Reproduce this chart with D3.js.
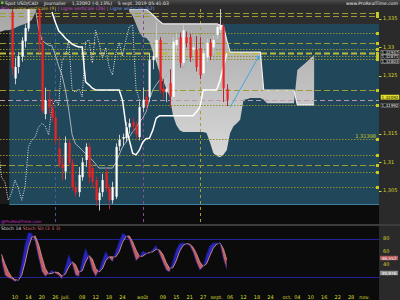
<!DOCTYPE html>
<html>
<head>
<meta charset="utf-8">
<script src="https://cdn.jsdelivr.net/npm/d3@7"></script>
<style>
  html, body { margin: 0; padding: 0; background: #0a0a0a; }
  svg { display: block; font-family: "DejaVu Sans", sans-serif; }
</style>
</head>
<body>
<svg id="chart" width="400" height="300"></svg>
<script>
// ---- data (USD/CAD daily, 6 june -> 5 sept 2019) ----
const firstDay = "2019-06-06";
const opens  = [1.3400,1.3362,1.3246,1.3266,1.3284,1.3311,1.3333,1.3386,1.3392,1.3380,1.3310,1.3184,1.3210,1.3196,1.3178,1.3124,1.3096,1.3084,1.3134,1.3099,1.3057,1.3048,1.3074,1.3104,1.3127,1.3090,1.3069,1.3034,1.3048,1.3083,1.3055,1.3034,1.3040,1.3128,1.3141,1.3142,1.3161,1.3170,1.3165,1.3144,1.3195,1.3214,1.3214,1.3278,1.3283,1.3313,1.3229,1.3222,1.3238,1.3214,1.3304,1.3318,1.3273,1.3318,1.3318,1.3296,1.3296,1.3299,1.3255,1.3283,1.3308,1.3300,1.3322,1.3331,1.3337,1.3228];
const highs  = [1.3425,1.3375,1.3282,1.3292,1.3318,1.3340,1.3392,1.3405,1.3432,1.3390,1.3318,1.3230,1.3225,1.3210,1.3190,1.3145,1.3110,1.3145,1.3140,1.3106,1.3066,1.3092,1.3108,1.3133,1.3134,1.3098,1.3075,1.3055,1.3080,1.3090,1.3062,1.3066,1.3133,1.3148,1.3150,1.3170,1.3176,1.3178,1.3172,1.3206,1.3230,1.3225,1.3290,1.3298,1.3345,1.3318,1.3245,1.3245,1.3262,1.3318,1.3325,1.3326,1.3340,1.3328,1.3324,1.3310,1.3320,1.3318,1.3298,1.3315,1.3315,1.3320,1.3342,1.3384,1.3342,1.3236];
const lows   = [1.3370,1.3252,1.3236,1.3255,1.3275,1.3300,1.3328,1.3370,1.3370,1.3290,1.3185,1.3175,1.3185,1.3170,1.3130,1.3090,1.3068,1.3070,1.3092,1.3050,1.3040,1.3040,1.3068,1.3092,1.3063,1.3056,1.3024,1.3016,1.3040,1.3048,1.3018,1.3028,1.3036,1.3120,1.3128,1.3135,1.3150,1.3155,1.3140,1.3138,1.3188,1.3192,1.3205,1.3262,1.3275,1.3220,1.3210,1.3205,1.3195,1.3208,1.3290,1.3265,1.3268,1.3300,1.3275,1.3285,1.3258,1.3245,1.3248,1.3275,1.3278,1.3290,1.3315,1.3325,1.3205,1.3198];
const closes = [1.3378,1.3264,1.3266,1.3285,1.3312,1.3334,1.3385,1.3392,1.3380,1.3308,1.3190,1.3208,1.3196,1.3178,1.3139,1.3096,1.3090,1.3134,1.3099,1.3057,1.3047,1.3078,1.3100,1.3127,1.3074,1.3066,1.3034,1.3047,1.3069,1.3055,1.3034,1.3057,1.3127,1.3139,1.3144,1.3161,1.3168,1.3163,1.3148,1.3196,1.3209,1.3200,1.3278,1.3285,1.3313,1.3226,1.3222,1.3228,1.3214,1.3310,1.3313,1.3273,1.3330,1.3308,1.3282,1.3300,1.3266,1.3252,1.3290,1.3308,1.3285,1.3313,1.3336,1.3339,1.3229,1.3209];

// ichimoku lines (index = trading day from firstDay)
const tenkanStart = 4;
const tenkan = [1.3357,1.3358,1.3362,1.3365,1.3369,1.3334,1.3313,1.3308,1.3304,1.3303,1.3287,1.3268,1.3252,1.3226,1.3191,1.3148,1.3132,1.3127,1.3121,1.3115,1.3109,1.3104,1.3097,1.3090,1.3090,1.3090,1.3090,1.3090,1.3099,1.3113,1.3127,1.3135,1.3144,1.3153,1.3160,1.3170,1.3177,1.3188,1.3209,1.3226,1.3235,1.3243,1.3243,1.3252,1.3261,1.3264,1.3270,1.3270,1.3264,1.3275,1.3278,1.3275,1.3278,1.3282,1.3283,1.3287,1.3292,1.3296,1.3301,1.3304,1.3299,1.3296];
const kijunStart = 13;
const kijun = [1.3362,1.3344,1.3329,1.3323,1.3316,1.3311,1.3306,1.3303,1.3301,1.3301,1.3240,1.3235,1.3229,1.3226,1.3226,1.3226,1.3226,1.3226,1.3226,1.3226,1.3226,1.3208,1.3165,1.3139,1.3116,1.3113,1.3121,1.3135,1.3141,1.3142,1.3156,1.3177,1.3181,1.3181,1.3181,1.3181,1.3181,1.3181,1.3181,1.3181,1.3181,1.3181,1.3181,1.3188,1.3196,1.3226,1.3226,1.3226,1.3226,1.3226,1.3243,1.3266,1.3290];
const spanStart = 36;
const spanB = [1.3365,1.3367,1.3367,1.3367,1.3367,1.3367,1.3362,1.3357,1.3351,1.3346,1.3341,1.3341,1.3341,1.3341,1.3341,1.3341,1.3341,1.3341,1.3341,1.3341,1.3341,1.3341,1.3341,1.3341,1.3341,1.3341,1.3341,1.3339,1.3337,1.3313,1.3292,1.3292,1.3292,1.3292,1.3292,1.3292,1.3292,1.3292,1.3292,1.3292,1.3226,1.3226,1.3226,1.3226,1.3226,1.3226,1.3226,1.3226,1.3226,1.3226,1.3200,1.3200,1.3200,1.3200,1.3200,1.3200];
const spanA = [1.3362,1.3355,1.3341,1.3327,1.3318,1.3317,1.3310,1.3292,1.3275,1.3257,1.3243,1.3229,1.3215,1.3182,1.3165,1.3156,1.3153,1.3153,1.3153,1.3153,1.3153,1.3153,1.3153,1.3151,1.3135,1.3116,1.3111,1.3109,1.3113,1.3121,1.3151,1.3163,1.3168,1.3174,1.3209,1.3210,1.3212,1.3212,1.3212,1.3212,1.3209,1.3203,1.3203,1.3203,1.3203,1.3203,1.3203,1.3203,1.3203,1.3203,1.3261,1.3266,1.3271,1.3276,1.3282,1.3287];
const leftSpanStart = -3;
const leftSpanB = [1.3380,1.3380,1.3380,1.3380,1.3380,1.3380,1.3380,1.3380,1.3380,1.3380,1.3380,1.3380];
const leftSpanA = [1.3327,1.3328,1.3330,1.3330,1.3332,1.3334,1.3337,1.3339,1.3341,1.3344,1.3348,1.3360];
const chikouShift = 26;

// stochastic (index -2 .. 65)
const stochStart = -2;
const stochK = [45,22,18,16,12,15,40,70,89,88,75,50,28,20,25,30,25,22,16,35,54,40,22,20,45,64,50,30,20,30,45,59,50,43,60,75,88,85,78,62,45,50,60,57,56,63,69,55,42,30,27,45,62,72,73,71,69,58,42,30,35,55,68,73,73,72,48,31];
const stochD = [55,40,28,19,15,14,22,42,66,82,84,71,51,33,24,25,27,26,21,24,35,43,39,27,29,43,53,48,33,27,32,45,51,51,51,59,74,83,84,75,62,52,52,56,58,59,63,62,55,42,33,34,45,60,69,72,71,66,56,43,36,40,53,65,71,73,64,46.5];

// drawn objects
const dashedLevels = [1.3360, 1.3355, 1.3308, 1.3226, 1.3095];
const dottedLevels = [1.3325, 1.3297, 1.3285, 1.3280, 1.31992, 1.31398, 1.3113, 1.3083, 1.3057];
const boldLevels = [1.3291];
const lastPrice = 1.32092;
const prevPrice = 1.31992;
const verticalBarsBack = [8, 25, 51];
const arrowLine = [[66, 1.3196], [74.4, 1.3283]];
const priceTicks = [1.305, 1.31, 1.315, 1.325, 1.33, 1.335];
const sideTags = [1.32947, 1.32871, 1.32803];
const stochTicks = [40, 60, 80];
const tickDates = ["2019-06-10","2019-06-14","2019-06-20","2019-06-26","2019-07-01","2019-07-08","2019-07-12","2019-07-18","2019-07-24","2019-08-01","2019-08-09","2019-08-15","2019-08-21","2019-08-27","2019-09-02","2019-09-06","2019-09-12","2019-09-18","2019-09-24","2019-10-01","2019-10-04","2019-10-10","2019-10-16","2019-10-22","2019-10-28","2019-11-01"];
const tickLabels = ["10","14","20","26","juil.","08","12","18","24","août","09","15","21","27","sept.","06","12","18","24","oct.","04","10","16","22","28","nov."];

// ---- layout ----
let config = { plotRight: 379, priceTop: 9, priceBottom: 224, stochTop: 226, stochBottom: 290 };
let svg = d3.select("#chart");

// trading days (weekdays) used as the x index
let days = d3.timeDay.range(new Date(2019, 5, 6), new Date(2019, 10, 9))
  .filter(d => d.getDay() !== 0 && d.getDay() !== 6);
let fmtDay = d3.timeFormat("%Y-%m-%d");
let dayIndex = new Map(days.map((d, i) => [fmtDay(d), i]));
let lastIndex = closes.length - 1;

let x = d3.scaleLinear().domain([-2.46, 110.3]).range([0, config.plotRight]);
let y = d3.scaleLinear().domain([1.305, 1.335]).range([191, 18.8]);
let ys = d3.scaleLinear().domain([20, 80]).range([276.5, 238.5]);

let fr = d3.formatLocale({ decimal: ",", thousands: " ", grouping: [3], currency: ["", ""] });
let fmtTick = v => fr.format(".3~f")(v);
let fmt5 = fr.format(".5f");
let fmt3 = fr.format(".3f");

let defs = svg.append("defs");
defs.append("clipPath").attr("id", "mainClip").append("rect")
  .attr("x", 0).attr("y", config.priceTop).attr("width", config.plotRight).attr("height", config.priceBottom - config.priceTop);
defs.append("clipPath").attr("id", "stochClip").append("rect")
  .attr("x", 0).attr("y", config.stochTop).attr("width", config.plotRight).attr("height", config.stochBottom - config.stochTop);
let grad = defs.append("linearGradient").attr("id", "cloudGrad")
  .attr("gradientUnits", "userSpaceOnUse").attr("x1", 0).attr("y1", 10).attr("x2", 0).attr("y2", 160);
grad.append("stop").attr("offset", 0).attr("stop-color", "#a6a6a6");
grad.append("stop").attr("offset", 1).attr("stop-color", "#d9d9d9");
let tgrad = defs.append("linearGradient").attr("id", "titleGrad").attr("x1", 0).attr("y1", 0).attr("x2", 0).attr("y2", 1);
tgrad.append("stop").attr("offset", 0).attr("stop-color", "#4a4a4a");
tgrad.append("stop").attr("offset", 1).attr("stop-color", "#2c2c2c");

// ---- backgrounds ----
svg.append("rect").attr("width", 400).attr("height", 300).attr("fill", "#0b0b0b");
svg.append("rect").attr("x", 0).attr("y", 0).attr("width", 400).attr("height", 24).attr("fill", "#2d2d2d");
svg.append("rect").attr("x", 0).attr("y", 0).attr("width", 400).attr("height", 5.5).attr("fill", "url(#titleGrad)");
svg.append("rect").attr("x", 0).attr("y", 24).attr("width", x(0) + 1).attr("height", 180).attr("fill", "#1b1b1b");
svg.append("rect").attr("x", x(0) + 1).attr("y", 24).attr("width", config.plotRight - x(0) - 1).attr("height", 180)
  .attr("fill", "#21475a");
svg.append("line").attr("x1", x(0) + 1).attr("x2", config.plotRight).attr("y1", 204.5).attr("y2", 204.5)
  .attr("stroke", "#3f7f9e").attr("stroke-width", 1);
svg.append("rect").attr("x", config.plotRight).attr("y", 0).attr("width", 21).attr("height", 300).attr("fill", "#2a2a2a");
svg.append("rect").attr("x", config.plotRight).attr("y", 0).attr("width", 21).attr("height", 5.5).attr("fill", "url(#titleGrad)");
svg.append("rect").attr("x", 0).attr("y", 224).attr("width", 400).attr("height", 2).attr("fill", "#3c3c3c");
svg.append("rect").attr("x", 0).attr("y", 290).attr("width", config.plotRight).attr("height", 10).attr("fill", "#0b0b0b");

let main = svg.append("g").attr("clip-path", "url(#mainClip)");

// ---- ichimoku cloud ----
let cloudArea = d3.area().x(d => x(d.i)).y0(d => y(d.a)).y1(d => y(d.b));
let mainCloud = spanA.map((a, k) => ({ i: spanStart + k, a: a, b: spanB[k] }));
let leftCloud = leftSpanA.map((a, k) => ({ i: leftSpanStart + k, a: a, b: leftSpanB[k] }));
main.append("path").datum(leftCloud).attr("d", cloudArea).attr("fill", "url(#cloudGrad)");
main.append("path").datum(mainCloud).attr("d", cloudArea).attr("fill", "url(#cloudGrad)");

// ---- horizontal levels ----
function levelLines(levels, dash, width, color) {
  main.append("g").selectAll("line").data(levels).enter().append("line")
    .attr("x1", 0).attr("x2", config.plotRight - 3)
    .attr("y1", d => Math.round(y(d)) + 0.5).attr("y2", d => Math.round(y(d)) + 0.5)
    .attr("stroke", color).attr("stroke-width", width).attr("stroke-dasharray", dash);
}
levelLines(dottedLevels, "1.5,1.5", 1, "#8f8f2e");
levelLines(dashedLevels, "6,3", 1, "#9c9c30");
levelLines(boldLevels, "6,3", 2, "#bcbc3a");
main.append("line").attr("x1", 0).attr("x2", config.plotRight)
  .attr("y1", Math.round(y(lastPrice)) + 0.5).attr("y2", Math.round(y(lastPrice)) + 0.5)
  .attr("stroke", "#b99ab0").attr("stroke-width", 1).attr("stroke-dasharray", "5,3");

// level markers at the right end
main.append("g").selectAll("rect").data(dashedLevels.concat(dottedLevels, boldLevels)).enter().append("rect")
  .attr("x", config.plotRight - 3).attr("y", d => Math.round(y(d)) - 1).attr("width", 3).attr("height", 3)
  .attr("fill", "#c8c824");
main.append("text").attr("x", config.plotRight - 3).attr("y", y(1.31398) - 1.5)
  .attr("text-anchor", "end").style("font-size", "5px").style("fill", "#c8c824").text(fmt5(1.31398));

// ---- vertical lines (9, 26, 52) ----
let vColors = ["#b09a2a", "#8a4a9a", "#3c5ca0"];
main.append("g").selectAll("line").data(verticalBarsBack).enter().append("line")
  .attr("x1", d => Math.round(x(lastIndex - d)) + 0.5).attr("x2", d => Math.round(x(lastIndex - d)) + 0.5)
  .attr("y1", config.priceTop).attr("y2", config.priceBottom)
  .attr("stroke", (d, k) => vColors[k]).attr("stroke-width", 1).attr("stroke-dasharray", "3,3");

// ---- ichimoku lines ----
let line = d3.line().x(d => x(d.i)).y(d => y(d.v));
main.append("path").datum(tenkan.map((v, k) => ({ i: tenkanStart + k, v: v })))
  .attr("d", line).attr("fill", "none").attr("stroke", "#a9b3b8").attr("stroke-width", 1);
main.append("path").datum(spanB.map((v, k) => ({ i: spanStart + k, v: v })))
  .attr("d", line).attr("fill", "none").attr("stroke", "#eeeeee").attr("stroke-width", 1.2);
main.append("path").datum(kijun.map((v, k) => ({ i: kijunStart + k, v: v })))
  .attr("d", line).attr("fill", "none").attr("stroke", "#ffffff").attr("stroke-width", 1.5);
// chikou: closes drawn 26 bars back
main.append("path").datum(closes.map((v, k) => ({ i: k - chikouShift, v: v })).filter(d => d.i >= -4))
  .attr("d", line).attr("fill", "none").attr("stroke", "#e8e8e8").attr("stroke-width", 1)
  .attr("stroke-dasharray", "1,1.4");

// ---- candles ----
let candles = opens.map((o, k) => ({ i: k, o: o, h: highs[k], l: lows[k], c: closes[k] }));
let cg = main.append("g").attr("id", "candles");
cg.selectAll("line").data(candles).enter().append("line")
  .attr("x1", d => Math.round(x(d.i)) + 0.5).attr("x2", d => Math.round(x(d.i)) + 0.5)
  .attr("y1", d => y(d.h)).attr("y2", d => y(d.l))
  .attr("stroke", d => d.c >= d.o ? "#c9c9c9" : "#b0283a").attr("stroke-width", 1);
cg.selectAll("rect").data(candles).enter().append("rect")
  .attr("x", d => Math.round(x(d.i)) - 0.5).attr("width", 2.2)
  .attr("y", d => y(Math.max(d.o, d.c)))
  .attr("height", d => Math.max(1, Math.abs(y(d.o) - y(d.c))))
  .attr("fill", d => d.c >= d.o ? "#ffffff" : "#ee2222");

// ---- drawn arrow ----
main.append("path").datum(arrowLine.map(p => ({ i: p[0], v: p[1] })))
  .attr("d", line).attr("stroke", "#41a9e0").attr("stroke-width", 1).attr("fill", "none");
main.append("rect").attr("x", x(arrowLine[1][0]) - 1.5).attr("y", y(arrowLine[1][1]) - 1.5)
  .attr("width", 3).attr("height", 3).attr("fill", "#41a9e0");

// ---- header texts ----
svg.append("rect").attr("x", 1).attr("y", 1.5).attr("width", 2.5).attr("height", 2.5).attr("fill", "#6fbf3a");
svg.append("text").attr("x", 5).attr("y", 4.6).style("font-size", "4.6px").style("fill", "#e4e4e4")
  .attr("xml:space", "preserve")
  .text("Spot USD/CAD    Journalier    1,32092 (-0,13%)    5 sept. 2019 05:41:03");
svg.append("text").attr("x", 398).attr("y", 4.6).attr("text-anchor", "end")
  .style("font-size", "4.6px").style("fill", "#e8e8e8").text("www.ProRealTime.com");

let legend = svg.append("text").attr("x", 1).attr("y", 10.2).style("font-size", "4.6px").attr("xml:space", "preserve");
legend.append("tspan").style("fill", "#c94ec9").text("Prix ");
legend.append("tspan").style("fill", "#8a8a8a").text("| ");
legend.append("tspan").style("fill", "#d2bb3c").text("Ligne verticale (9) ");
legend.append("tspan").style("fill", "#8a8a8a").text("| ");
legend.append("tspan").style("fill", "#c94ec9").text("Ligne verticale (26) ");
legend.append("tspan").style("fill", "#8a8a8a").text("| ");
legend.append("tspan").style("fill", "#6e9ee8").text("Ligne verticale (52)");

// ---- price axis ----
let axisG = svg.append("g").attr("id", "price-axis");
axisG.selectAll("text").data(priceTicks).enter().append("text")
  .attr("x", 383).attr("y", d => y(d) + 1.2)
  .style("font-size", "5px").style("fill", "#d6d62a").text(d => fmtTick(d));
axisG.selectAll("line").data(priceTicks).enter().append("line")
  .attr("x1", 379).attr("x2", 381.5).attr("y1", d => Math.round(y(d)) + 0.5).attr("y2", d => Math.round(y(d)) + 0.5)
  .attr("stroke", "#d6d62a").attr("stroke-width", 1);

function tag(value, yPos, bg, fg, border) {
  let g = svg.append("g");
  g.append("rect").attr("x", 381).attr("y", yPos - 2.1).attr("width", 18).attr("height", 4.2)
    .attr("fill", bg).attr("stroke", border).attr("stroke-width", 0.5);
  g.append("text").attr("x", 390).attr("y", yPos + 1.4).attr("text-anchor", "middle")
    .style("font-size", "4.1px").style("fill", fg).text(value);
}
sideTags.forEach((v, k) => tag(fmt5(v), 52.5 + k * 4.5, "#161616", "#f0f0f0", "#bcbcbc"));
tag(fmt5(lastPrice), y(lastPrice) - 2.5, "#e6e22a", "#111111", "#e6e22a");
tag(fmt5(prevPrice), y(prevPrice), "#1c1c1c", "#f0f0f0", "#888888");

// ---- time axis ----
svg.append("g").attr("id", "time-axis").selectAll("text").data(tickDates).enter().append("text")
  .attr("x", d => x(dayIndex.get(d))).attr("y", 299)
  .attr("text-anchor", "middle").style("font-size", "5px").style("fill", "#dede2e")
  .text((d, k) => tickLabels[k]);

// ---- stochastic panel ----
svg.append("text").attr("x", 1).attr("y", 222.5).style("font-size", "4.2px").style("fill", "#c02cc0").text("@ProRealTime.com");
let sh = svg.append("text").attr("x", 1).attr("y", 230.2).style("font-size", "4.6px").attr("xml:space", "preserve");
sh.append("tspan").style("fill", "#d8d8d8").text("Stoch 14 ");
sh.append("tspan").style("fill", "#d86a6a").text("Stoch SD (3 3 3)");

let stoch = svg.append("g").attr("clip-path", "url(#stochClip)");
[80, 20].forEach(v => {
  stoch.append("line").attr("x1", 0).attr("x2", config.plotRight)
    .attr("y1", Math.round(ys(v)) + 0.5).attr("y2", Math.round(ys(v)) + 0.5)
    .attr("stroke", "#22229a").attr("stroke-width", 1);
});
let sData = stochK.map((k, j) => ({ i: stochStart + j, k: k, d: stochD[j] }));
defs.append("clipPath").attr("id", "aboveD").append("path").datum(sData)
  .attr("d", d3.area().x(d => x(d.i)).y0(config.stochTop).y1(d => ys(d.d)));
defs.append("clipPath").attr("id", "belowD").append("path").datum(sData)
  .attr("d", d3.area().x(d => x(d.i)).y0(d => ys(d.d)).y1(config.stochBottom));
let band = d3.area().x(d => x(d.i)).y0(d => ys(d.k)).y1(d => ys(d.d));
stoch.append("path").datum(sData).attr("d", band).attr("fill", "#2626b8").attr("clip-path", "url(#aboveD)");
stoch.append("path").datum(sData).attr("d", band).attr("fill", "#c25e5e").attr("clip-path", "url(#belowD)");
stoch.append("path").datum(sData).attr("d", d3.line().x(d => x(d.i)).y(d => ys(d.d)))
  .attr("fill", "none").attr("stroke", "#e39a9a").attr("stroke-width", 0.8);
stoch.append("path").datum(sData).attr("d", d3.line().x(d => x(d.i)).y(d => ys(d.k)))
  .attr("fill", "none").attr("stroke", "#1a1a8a").attr("stroke-width", 0.8);

svg.append("g").selectAll("text").data(stochTicks).enter().append("text")
  .attr("x", 383).attr("y", d => ys(d) + 1.8).style("font-size", "5px").style("fill", "#d6d62a").text(d => d);
function stag(value, yPos, bg) {
  svg.append("rect").attr("x", 380).attr("y", yPos - 2.2).attr("width", 18).attr("height", 4.4).attr("fill", bg);
  svg.append("text").attr("x", 389).attr("y", yPos + 1.5).attr("text-anchor", "middle")
    .style("font-size", "4.3px").style("fill", "#ffffff").text(value);
}
stag(fmt3(stochD[stochD.length - 1] + 0.052), 258, "#b45a5a");
stag(fmt3(stochK[stochK.length - 1] - 0.024), 273, "#8c8c8c");
</script>
</body>
</html>
